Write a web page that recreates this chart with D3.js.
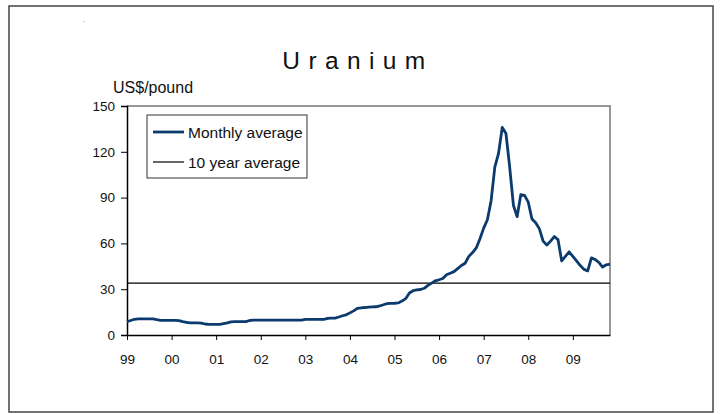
<!DOCTYPE html>
<html>
<head>
<meta charset="utf-8">
<script src="https://cdnjs.cloudflare.com/ajax/libs/d3/7.8.5/d3.min.js"></script>
<style>
  body { margin: 0; background: #fff; }
  svg text { font-family: "Liberation Sans", Arial, sans-serif; fill: #111; }
</style>
</head>
<body>
<div id="chart"></div>
<script>
// data: monthly average uranium price, Jan 1999 .. Nov 2009 (US$/pound)
var prices = [
  8.7, 9.5, 10.3, 10.6, 10.6, 10.6, 10.6, 10.5, 10.0, 9.6, 9.6, 9.6,     // 1999
  9.6, 9.6, 9.4, 8.7, 8.3, 7.9, 7.9, 7.9, 7.8, 7.2, 7.0, 7.0,            // 2000
  7.0, 7.0, 7.5, 8.0, 8.6, 8.7, 8.7, 8.7, 8.8, 9.5, 9.7, 9.7,            // 2001
  9.7, 9.7, 9.7, 9.7, 9.8, 9.8, 9.8, 9.8, 9.8, 9.8, 9.8, 9.8,            // 2002
  10.2, 10.3, 10.3, 10.3, 10.3, 10.3, 10.9, 11.1, 11.1, 11.8, 12.6, 13.2, // 2003
  14.5, 15.8, 17.5, 17.8, 18.0, 18.3, 18.4, 18.5, 19.0, 19.8, 20.5, 20.7, // 2004
  20.8, 21.0, 22.2, 23.8, 27.5, 29.0, 29.5, 29.8, 30.6, 32.5, 34.0, 35.5, // 2005
  36.2, 37.0, 39.5, 40.5, 41.5, 43.5, 45.5, 47.0, 51.5, 54.0, 57.0, 63.0, // 2006
  70.0, 75.5, 88.0, 110.0, 119.0, 136.0, 132.0, 110.0, 85.0, 77.5, 92.0, 91.5, // 2007
  87.0, 76.0, 73.5, 69.5, 61.5, 59.0, 61.5, 64.5, 62.5, 48.5, 51.5, 54.5, // 2008
  51.5, 48.5, 45.5, 43.0, 42.0, 50.5, 49.5, 47.5, 44.5, 46.0, 46.5        // 2009
];
var tenYearAverage = 34;
var yearLabels = ["99", "00", "01", "02", "03", "04", "05", "06", "07", "08", "09"];
var yTicks = [0, 30, 60, 90, 120, 150];
var seriesNames = ["Monthly average", "10 year average"];

var svgWidth = 720;
var svgHeight = 414;

// plot area edges
var plot = { left: 127, right: 610, top: 106, bottom: 335 };

var svg = d3.select("#chart")
            .append("svg")
            .attr("width", svgWidth)
            .attr("height", svgHeight);

// outer frame
svg.append("rect")
   .attr("x", 9).attr("y", 6)
   .attr("width", 704).attr("height", 406)
   .attr("fill", "none")
   .attr("stroke", "#444")
   .attr("stroke-width", 1.5);

svg.append("text")
   .attr("x", 83).attr("y", 22)
   .style("font-size", "8px")
   .style("fill", "#666")
   .text(".");

// title
svg.append("text")
   .attr("x", 358).attr("y", 69)
   .attr("text-anchor", "middle")
   .style("font-size", "24.5px")
   .style("letter-spacing", "8.4px")
   .text("Uranium");

svg.append("text")
   .attr("x", 113).attr("y", 93)
   .style("font-size", "16px")
   .text("US$/pound");

// scales
var xScale = d3.scaleLinear()
               .domain([0, prices.length - 1])
               .range([plot.left, plot.right]);

var yScale = d3.scaleLinear()
               .domain([0, 150])
               .range([plot.bottom, plot.top]);

// plot area border (top and right)
svg.append("path")
   .attr("d", `M${plot.left},${plot.top}H${plot.right}V${plot.bottom}`)
   .attr("fill", "none")
   .attr("stroke", "#777")
   .attr("stroke-width", 1.5);

// y axis
var yAxis = d3.axisLeft(yScale)
              .tickValues(yTicks)
              .tickSize(6)
              .tickPadding(6);

var yG = svg.append("g")
            .attr("transform", `translate(${plot.left},0)`)
            .call(yAxis);
yG.select(".domain").attr("stroke", "#000").attr("stroke-width", 1.5);
yG.selectAll(".tick line").attr("stroke", "#000");
yG.selectAll("text").style("font-size", "13.5px").style("fill", "#111");

// x axis, one tick each January
var xAxis = d3.axisBottom(xScale)
              .tickValues(yearLabels.map((d, i) => i * 12))
              .tickFormat((d, i) => yearLabels[i])
              .tickSize(5)
              .tickSizeOuter(0)
              .tickPadding(14);

var xG = svg.append("g")
            .attr("transform", `translate(0,${plot.bottom})`)
            .call(xAxis);
xG.select(".domain").attr("stroke", "#000").attr("stroke-width", 1.5);
xG.selectAll(".tick line").attr("stroke", "#000");
xG.selectAll("text").style("font-size", "13.5px").style("fill", "#111");

// 10 year average line
svg.append("line")
   .attr("x1", xScale(0)).attr("x2", xScale(prices.length - 1))
   .attr("y1", yScale(tenYearAverage)).attr("y2", yScale(tenYearAverage))
   .attr("stroke", "#000")
   .attr("stroke-width", 1.2);

// monthly line
var line = d3.line()
             .x((d, i) => xScale(i))
             .y(d => yScale(d));

svg.append("path")
   .datum(prices)
   .attr("d", line)
   .attr("fill", "none")
   .attr("stroke", "#0a3a6e")
   .attr("stroke-width", 2.8)
   .attr("stroke-linejoin", "round");

// legend
var legend = svg.append("g").attr("transform", "translate(147,115)");
legend.append("rect")
      .attr("width", 160).attr("height", 63)
      .attr("fill", "#fff")
      .attr("stroke", "#333")
      .attr("stroke-width", 1);

var legendColors = ["#0a3a6e", "#000"];
var legendWidths = [2.8, 1.2];
seriesNames.forEach(function(name, i) {
  var y = 17 + i * 30;
  legend.append("line")
        .attr("x1", 6).attr("x2", 37)
        .attr("y1", y).attr("y2", y)
        .attr("stroke", legendColors[i])
        .attr("stroke-width", legendWidths[i]);
  legend.append("text")
        .attr("x", 41).attr("y", y + 6)
        .style("font-size", "15.5px")
        .text(name);
});
</script>
</body>
</html>
